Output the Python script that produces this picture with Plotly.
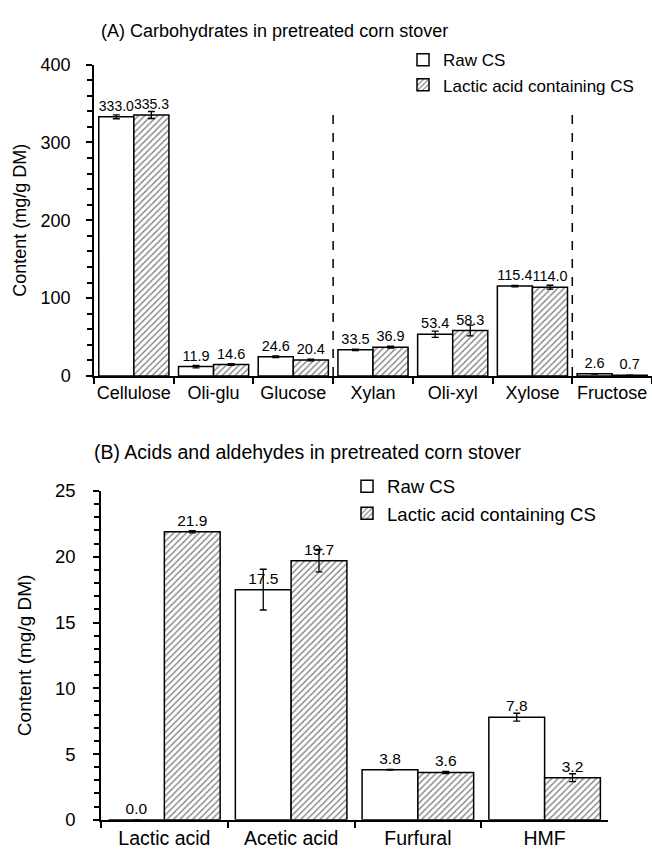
import plotly.graph_objects as go

# ---- Data ----
carb_cats = ["Cellulose", "Oli-glu", "Glucose", "Xylan", "Oli-xyl", "Xylose", "Fructose"]
raw_carb = [333.0, 11.9, 24.6, 33.5, 53.4, 115.4, 2.6]
raw_carb_err = [2.5, 1.5, 1.0, 1.0, 4.0, 1.0, 0.3]
lac_carb = [335.3, 14.6, 20.4, 36.9, 58.3, 114.0, 0.7]
lac_carb_err = [4.5, 1.0, 1.0, 1.2, 7.0, 2.5, 0.2]
carb_separators = [2.5, 5.5]   # between Glucose|Xylan and Xylose|Fructose
separator_top = 345

acid_cats = ["Lactic acid", "Acetic acid", "Furfural", "HMF"]
raw_acid = [0.0, 17.5, 3.8, 7.8]
raw_acid_err = [0.0, 1.55, 0.03, 0.3]
lac_acid = [21.9, 19.7, 3.6, 3.2]
lac_acid_err = [0.08, 0.85, 0.08, 0.3]

series_names = ["Raw CS", "Lactic acid containing CS"]

FONT = "Liberation Sans, Arial, sans-serif"
W, H = 652, 861

def px_x(p):
    return p / W

def px_y(p):
    return 1 - p / H

fig = go.Figure()

hatch = dict(shape="/", fgcolor="black", bgcolor="white", size=4.5, solidity=0.3)

def add_pair(cats, raw, raw_err, lac, lac_err, xa, ya, leg, lblsize):
    fig.add_trace(go.Bar(
        x=cats, y=raw, name=series_names[0], xaxis=xa, yaxis=ya, legend=leg,
        legendgroup=leg + "raw",
        marker=dict(color="white", line=dict(color="black", width=1.5)),
        error_y=dict(type="data", array=raw_err, color="black", thickness=1.3, width=3.5),
        texttemplate="%{y:.1f}", textposition="outside", cliponaxis=False,
        textfont=dict(family=FONT, size=lblsize, color="black"),
    ))
    fig.add_trace(go.Bar(
        x=cats, y=lac, name=series_names[1], xaxis=xa, yaxis=ya, legend=leg,
        legendgroup=leg + "lac",
        marker=dict(color="white", line=dict(color="black", width=1.5), pattern=hatch),
        error_y=dict(type="data", array=lac_err, color="black", thickness=1.3, width=3.5),
        texttemplate="%{y:.1f}", textposition="outside", cliponaxis=False,
        textfont=dict(family=FONT, size=lblsize, color="black"),
    ))

add_pair(carb_cats, raw_carb, raw_carb_err, lac_carb, lac_carb_err, "x", "y", "legend", 14.5)
add_pair(acid_cats, raw_acid, raw_acid_err, lac_acid, lac_acid_err, "x2", "y2", "legend2", 15.5)

for s in carb_separators:
    fig.add_shape(type="line", xref="x", yref="y", x0=s, x1=s, y0=0, y1=separator_top,
                  line=dict(color="black", width=1.5, dash="dash"))

def axis_common(fs):
    return dict(showline=True, linecolor="black", linewidth=1.5, ticks="outside",
                tickcolor="black", tickwidth=1.5, ticklen=6, showgrid=False, zeroline=False,
                tickfont=dict(family=FONT, size=fs, color="black"))

fig.update_layout(
    width=W, height=H, margin=dict(l=0, r=0, t=0, b=0),
    paper_bgcolor="white", plot_bgcolor="white",
    barmode="group", bargap=0.12, bargroupgap=0,
    font=dict(family=FONT, color="black"),
    xaxis=dict(domain=[px_x(94), px_x(652)], anchor="y", tickson="boundaries", tickangle=0,
               range=[-0.5, len(carb_cats) - 0.5], **axis_common(18)),
    yaxis=dict(domain=[px_y(374), px_y(55)], anchor="x", range=[0, 400], dtick=100,
               ticklabelstandoff=12,
               minor=dict(dtick=20, ticks="outside", ticklen=5, tickcolor="black", tickwidth=1.5),
               title=dict(text="Content (mg/g DM)", font=dict(family=FONT, size=18, color="black"), standoff=9),
               **axis_common(18)),
    xaxis2=dict(domain=[px_x(101), px_x(608)], anchor="y2", tickson="boundaries", tickangle=0,
                range=[-0.5, len(acid_cats) - 0.5], **axis_common(19.5)),
    yaxis2=dict(domain=[px_y(829), px_y(492)], anchor="x2", range=[0, 25], dtick=5,
                ticklabelstandoff=14,
                minor=dict(dtick=1, ticks="outside", ticklen=5, tickcolor="black", tickwidth=1.5),
                title=dict(text="Content (mg/g DM)", font=dict(family=FONT, size=19, color="black"), standoff=18),
                **axis_common(18.5)),
    legend=dict(x=px_x(403), y=px_y(32), xanchor="left", yanchor="top", bgcolor="rgba(0,0,0,0)",
                font=dict(family=FONT, size=17, color="black"), tracegroupgap=0, itemwidth=30,
                traceorder="grouped"),
    legend2=dict(x=px_x(347), y=px_y(468), xanchor="left", yanchor="top", bgcolor="rgba(0,0,0,0)",
                 font=dict(family=FONT, size=18.6, color="black"), tracegroupgap=0, itemwidth=30,
                 traceorder="grouped"),
    showlegend=True,
    annotations=[
        dict(text="(A) Carbohydrates in pretreated corn stover", xref="paper", yref="paper",
             x=px_x(99), y=px_y(21), xanchor="left", yanchor="middle", showarrow=False,
             font=dict(family=FONT, size=18, color="black")),
        dict(text="(B) Acids and aldehydes in pretreated corn stover", xref="paper", yref="paper",
             x=px_x(92), y=px_y(452), xanchor="left", yanchor="middle", showarrow=False,
             font=dict(family=FONT, size=19.5, color="black")),
    ],
)

fig.write_html("out.html", config={"displayModeBar": False},
               post_script="document.body.style.margin='0';document.body.style.overflow='hidden';")
